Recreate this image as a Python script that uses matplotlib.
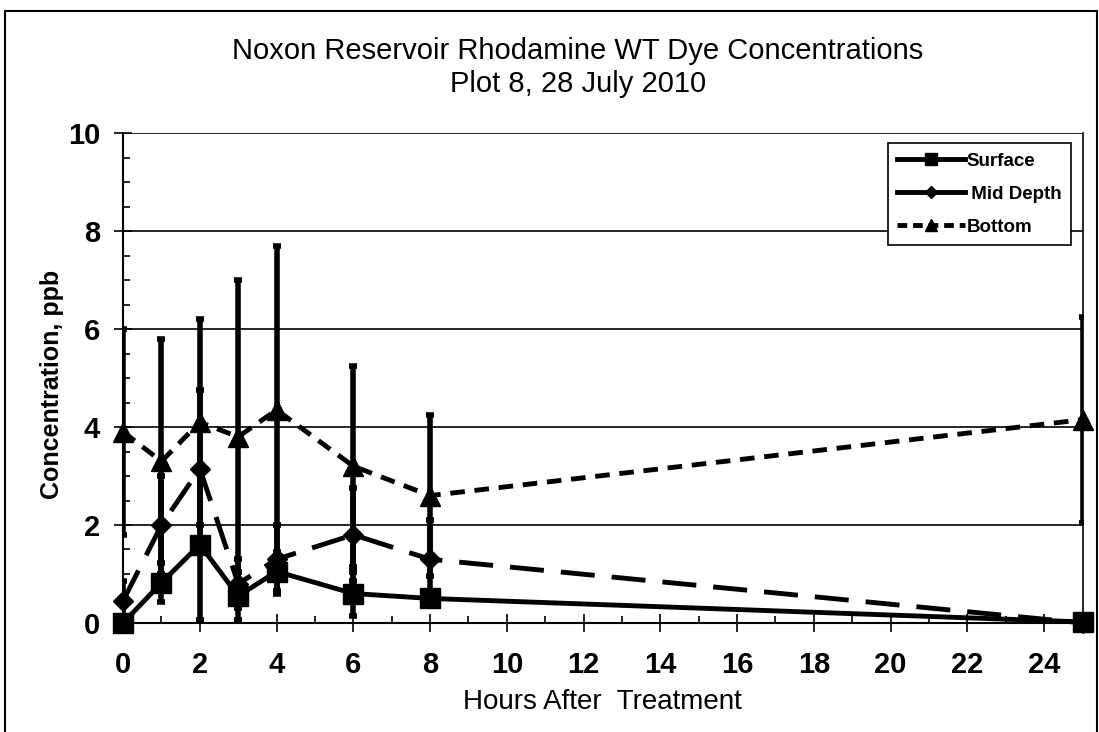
import matplotlib
matplotlib.use("Agg")
import matplotlib.pyplot as plt
from matplotlib.lines import Line2D
from matplotlib.patches import Rectangle

plt.rcParams["font.family"] = ["Liberation Sans", "DejaVu Sans"]

hours = [0, 1, 2, 3, 4, 6, 8, 25]

surface = [0.0, 0.82, 1.6, 0.55, 1.05, 0.6, 0.5, 0.02]
surface_err = [0.05, 0.4, 1.55, 0.5, 0.4, 0.45, 0.15, 0.05]

mid = [0.45, 2.0, 3.15, 0.8, 1.3, 1.8, 1.3, 0.0]
mid_err = [0.4, 1.0, 1.6, 0.5, 0.7, 0.95, 0.8, 0.05]

bottom = [3.9, 3.3, 4.1, 3.8, 4.35, 3.2, 2.6, 4.15]
bottom_err = [2.1, 2.5, 2.1, 3.2, 3.35, 2.05, 1.65, 2.1]

xticks = list(range(0, 25, 2))

fig = plt.figure(figsize=(10.99, 7.32), dpi=100)
ax = fig.add_axes([0.112, 0.149, 0.873, 0.669])

ebkw = dict(ecolor="black", elinewidth=4, capsize=3, capthick=4, color="black", lw=3.5)
series = [
    (bottom, bottom_err, "^", 15, (0, (3, 2))),
    (mid, mid_err, "D", 10, (0, (7, 3.5))),
    (surface, surface_err, "s", 15, "-"),
]
for i, (vals, errs, mk, size, ls) in enumerate(series):
    cont = ax.errorbar(hours, vals, yerr=errs, fmt=mk, ms=size, linestyle=ls,
                       zorder=4 + i, **ebkw)
    cont.lines[0].set_clip_on(False)

ax.set_xlim(0, 25)
ax.set_ylim(0, 10)
ax.set_xticks(xticks)
ax.set_xticks([t + 1 for t in range(0, 24, 2)], minor=True)
ax.set_yticks(range(0, 11, 2))
ax.set_yticks([v * 0.5 for v in range(21) if v % 4], minor=True)
ax.tick_params(axis="both", which="major", labelsize=21, length=13, width=1.2,
               direction="inout")
ax.tick_params(axis="x", which="major", pad=14)
ax.tick_params(axis="y", which="major", pad=10)
ax.tick_params(axis="both", which="minor", length=5, width=1.2, direction="in")
for lab in ax.get_xticklabels() + ax.get_yticklabels():
    lab.set_fontweight("bold")

ax.grid(axis="y", color="black", lw=1.2)
ax.set_axisbelow(True)
ax.spines["top"].set_visible(False)
ax.spines["right"].set_linewidth(1.2)
ax.spines["left"].set_linewidth(1.5)
ax.spines["bottom"].set_linewidth(1.5)

ax.set_xlabel("Hours After  Treatment", fontsize=20, labelpad=7)
ax.set_ylabel("Concentration, ppb", fontsize=18, fontweight="bold")
ax.yaxis.set_label_coords(-0.062, 0.486)
ax.set_title("Noxon Reservoir Rhodamine WT Dye Concentrations\nPlot 8, 28 July 2010",
             fontsize=21, x=0.474, pad=30, linespacing=1.22)

handles = [
    Line2D([], [], color="black", lw=3.5, marker="s", ms=8),
    Line2D([], [], color="black", lw=3.5, marker="D", ms=6),
    Line2D([], [], color="black", lw=3.5, marker="^", ms=9, linestyle=(0, (2, 1.2))),
]
labels = ["Surface", " Mid Depth", "Bottom"]
leg = ax.legend(handles, labels, loc="upper right", bbox_to_anchor=(0.9885, 0.98),
                fancybox=False, edgecolor="black", framealpha=1,
                prop={"weight": "bold", "size": 13.5}, handlelength=3.6,
                handletextpad=0.1, borderpad=0.5, labelspacing=0.85,
                borderaxespad=0)
leg.get_frame().set_linewidth(1.2)

fig.patches.append(Rectangle((0.005, -0.01), 0.993, 0.995, transform=fig.transFigure,
                             fill=False, edgecolor="black", lw=1.5))

fig.savefig("out.png", dpi=100)
